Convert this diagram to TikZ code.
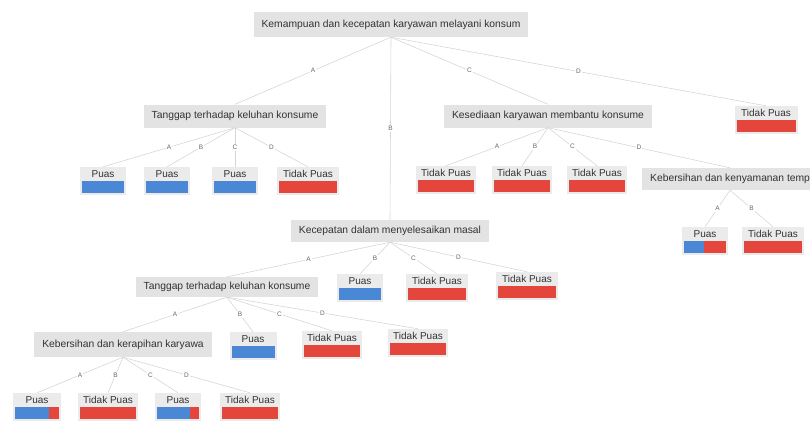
\documentclass[tikz,border=0pt]{standalone}
\usepackage{fontspec}
\setmainfont{Liberation Sans}
\usetikzlibrary{calc}
\definecolor{boxg}{HTML}{E3E3E3}
\definecolor{leafg}{HTML}{EBEBEB}
\definecolor{pblue}{HTML}{4A88D6}
\definecolor{pred}{HTML}{E4463B}
\definecolor{edgec}{HTML}{D6D6D6}
\definecolor{txt}{HTML}{333333}
\definecolor{lblc}{HTML}{666666}
\tikzset{
  dbox/.style={fill=boxg, text=txt, font=\fontsize{10.3}{12}\selectfont, inner xsep=8pt, inner ysep=0pt},
  leafbox/.style={fill=leafg, inner sep=0pt, minimum height=28pt},
  leaftext/.style={text=txt, font=\fontsize{10}{12}\selectfont, inner sep=0pt},
  edge/.style={draw=edgec, line width=0.6pt},
  elab/.style={fill=white, text=lblc, font=\fontsize{6.5}{7}\selectfont, inner sep=1pt}
}
% #1 name, #2 centre x, #3 top y, #4 width, #5 label, #6 blue fraction
\newcommand{\mkleaf}[6]{%
  \node[leafbox, minimum width=#4pt] (#1) at (#2,{#3+14}) {};
  \node[leaftext] (#1t) at (#2,{#3+7}) {#5};
  \fill[pred] ({#2-#4/2+2},{#3+13.5}) rectangle ({#2+#4/2-2},{#3+26});
  \fill[pblue] ({#2-#4/2+2},{#3+13.5}) rectangle ({#2-#4/2+2+#6*(#4-4)},{#3+26});
}
\begin{document}
\begin{tikzpicture}[x=1pt, y=-1pt]
\useasboundingbox (0,0) rectangle (810,421);
\clip (0,0) rectangle (810,421);

% decision nodes
\node[dbox, minimum height=25pt] (root) at (391,24.5) {Kemampuan dan kecepatan karyawan melayani konsum};
\node[dbox, minimum height=23pt] (tang1) at (235,116) {Tanggap terhadap keluhan konsume};
\node[dbox, minimum height=23pt] (kesed) at (548,116) {Kesediaan karyawan membantu konsume};
\node[dbox, minimum height=22pt] (kecep) at (390,231) {Kecepatan dalam menyelesaikan masal};
\node[dbox, minimum height=22pt, anchor=west] (kebny) at (642,179) {Kebersihan dan kenyamanan temp};
\node[dbox, minimum height=20pt] (tang2) at (227,287) {Tanggap terhadap keluhan konsume};
\node[dbox, minimum height=25pt] (keber) at (123,344.5) {Kebersihan dan kerapihan karyawa};

% leaves
\mkleaf{tp0}{766}{106}{63}{Tidak Puas}{0}
\mkleaf{t1a}{103}{167}{46}{Puas}{1}
\mkleaf{t1b}{167}{167}{46}{Puas}{1}
\mkleaf{t1c}{235}{167}{46}{Puas}{1}
\mkleaf{t1d}{308}{167}{62}{Tidak Puas}{0}
\mkleaf{k1a}{446}{166}{60}{Tidak Puas}{0}
\mkleaf{k1b}{522}{166}{60}{Tidak Puas}{0}
\mkleaf{k1c}{597}{166}{60}{Tidak Puas}{0}
\mkleaf{n1a}{705}{227}{46}{Puas}{0.48}
\mkleaf{n1b}{773}{227}{62}{Tidak Puas}{0}
\mkleaf{c1b}{360}{274}{46}{Puas}{1}
\mkleaf{c1c}{437}{274}{62}{Tidak Puas}{0}
\mkleaf{c1d}{527}{272}{62}{Tidak Puas}{0}
\mkleaf{t2b}{253}{332}{47}{Puas}{1}
\mkleaf{t2c}{332}{331}{60}{Tidak Puas}{0}
\mkleaf{t2d}{418}{329}{60}{Tidak Puas}{0}
\mkleaf{e1a}{37}{393}{48}{Puas}{0.78}
\mkleaf{e1b}{108}{393}{60}{Tidak Puas}{0}
\mkleaf{e1c}{178}{393}{46}{Puas}{0.78}
\mkleaf{e1d}{250}{393}{60}{Tidak Puas}{0}

% connectors
\begin{scope}[on background layer/.style={}]
\draw[edge] (root.south) -- node[elab]{A} (tang1.north);
\draw[edge] (root.south) -- node[elab]{B} (kecep.north);
\draw[edge] (root.south) -- node[elab]{C} (kesed.north);
\draw[edge] (root.south) -- node[elab]{D} (tp0.north);

\draw[edge] (tang1.south) -- node[elab]{A} (t1a.north);
\draw[edge] (tang1.south) -- node[elab]{B} (t1b.north);
\draw[edge] (tang1.south) -- node[elab]{C} (t1c.north);
\draw[edge] (tang1.south) -- node[elab]{D} (t1d.north);

\draw[edge] (kesed.south) -- node[elab]{A} (k1a.north);
\draw[edge] (kesed.south) -- node[elab]{B} (k1b.north);
\draw[edge] (kesed.south) -- node[elab]{C} (k1c.north);
\draw[edge] (kesed.south) -- node[elab]{D} ([xshift=88pt]kebny.north west);

\draw[edge] ([xshift=88pt]kebny.south west) -- node[elab]{A} (n1a.north);
\draw[edge] ([xshift=88pt]kebny.south west) -- node[elab]{B} (n1b.north);

\draw[edge] (kecep.south) -- node[elab]{A} (tang2.north);
\draw[edge] (kecep.south) -- node[elab]{B} (c1b.north);
\draw[edge] (kecep.south) -- node[elab]{C} (c1c.north);
\draw[edge] (kecep.south) -- node[elab]{D} (c1d.north);

\draw[edge] (tang2.south) -- node[elab]{A} (keber.north);
\draw[edge] (tang2.south) -- node[elab]{B} (t2b.north);
\draw[edge] (tang2.south) -- node[elab]{C} (t2c.north);
\draw[edge] (tang2.south) -- node[elab]{D} (t2d.north);

\draw[edge] (keber.south) -- node[elab]{A} (e1a.north);
\draw[edge] (keber.south) -- node[elab]{B} (e1b.north);
\draw[edge] (keber.south) -- node[elab]{C} (e1c.north);
\draw[edge] (keber.south) -- node[elab]{D} (e1d.north);
\end{scope}
\end{tikzpicture}
\end{document}
